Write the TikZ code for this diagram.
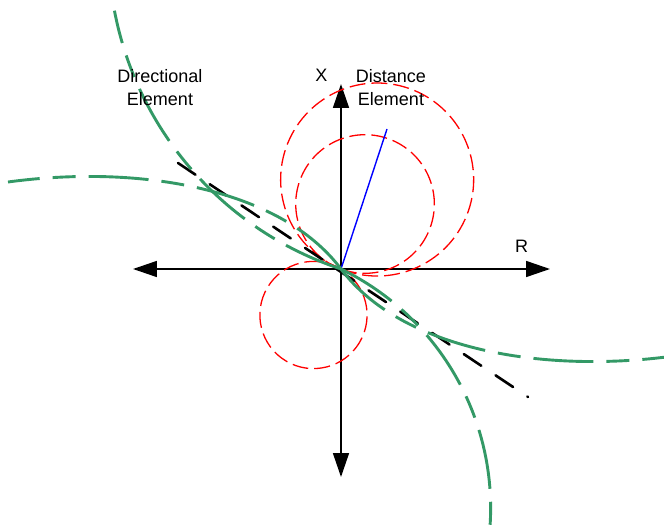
\documentclass[tikz,border=0pt]{standalone}
\usepackage{fontspec}
\setmainfont{Liberation Sans}
\usetikzlibrary{arrows.meta}

\definecolor{dirgreen}{RGB}{51,153,102}

\begin{document}
\begin{tikzpicture}[
    x=10pt, y=10pt,
    font=\fontsize{18}{23}\selectfont,
    axis/.style={line width=1.6pt, {Triangle[length=24pt,width=16pt]}-{Triangle[length=24pt,width=16pt]}},
    mho/.style={red, line width=1.3pt, dash pattern=on 16pt off 6pt},
    zline/.style={blue, line width=1.4pt},
    torque/.style={line width=2.6pt, line cap=round, dash pattern=on 21pt off 17.2pt},
    dirline/.style={dirgreen, line width=2.9pt, dash pattern=on 60pt off 13pt on 23pt off 13pt},
    lbl/.style={align=center, inner sep=0pt}
]
\useasboundingbox (-34.1,-25.6) rectangle (32.3,26.9);

% Axes
\coordinate (O) at (0,0);
\coordinate (west) at (-20.8,0);
\coordinate (east) at (20.9,0);
\coordinate (north) at (0,18.5);
\coordinate (south) at (0,-20.8);
\draw[axis] (west) -- (east);
\draw[axis] (north) -- (south);

\node[lbl] (xlabel) at (-1.95,19.4) {X};
\node[lbl] (rlabel) at (18.05,2.3) {R};

% Distance element (mho circles)
\draw[mho] (O) arc[start angle=248, delta angle=360, radius=9.65];
\draw[mho] (O) arc[start angle=249.7, delta angle=360, radius=6.93];
\draw[mho] (O) arc[start angle=59.1, delta angle=360, radius=5.36];

% Line impedance
\coordinate (zend) at (4.6,14.0);
\draw[zline] (O) -- (zend);

% Maximum torque line
\coordinate (mtaA) at (-16.3,10.6);
\coordinate (mtaB) at (18.7,-12.8);
\draw[torque] (mtaA) -- (mtaB);

% Directional element
\draw[dirline] (O) .. controls (-6,8) and (-20,10.5) .. (-33.3,8.7);
\draw[dirline] (O) .. controls (6,-8) and (20,-10.5) .. (33.3,-8.7);
\draw[dirline] (O) arc[start angle=251.7, end angle=190.8, radius=33.9];
\draw[dirline] (O) arc[start angle=64.1, end angle=-5, radius=26.57];

\node[lbl] (dirlabel) at (-18.1,18.15) {Directional\\Element};
\node[lbl] (distlabel) at (5.0,18.15) {Distance\\Element};

\end{tikzpicture}
\end{document}
